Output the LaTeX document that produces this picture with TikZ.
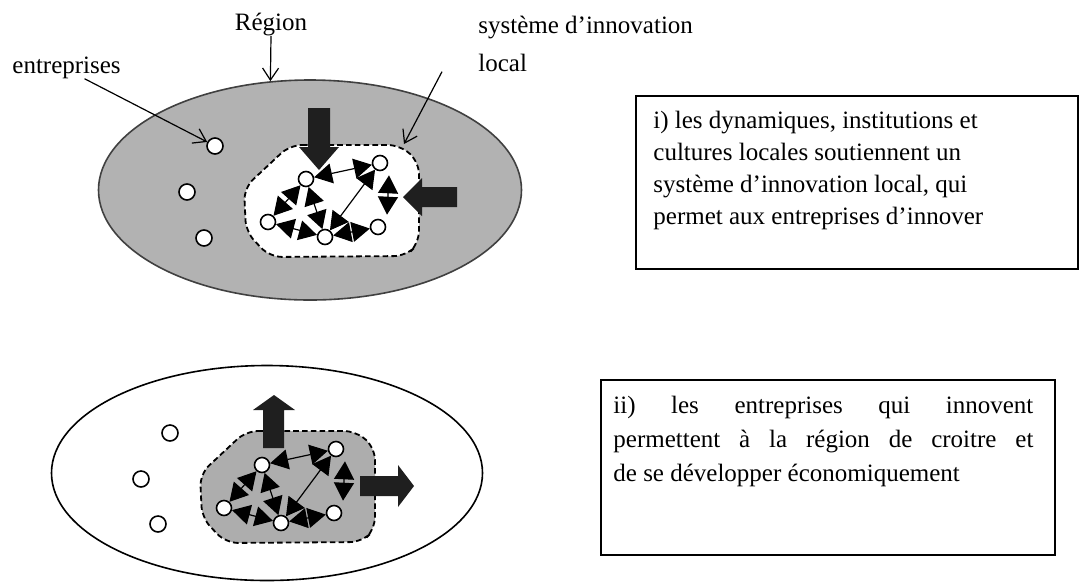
\documentclass[tikz,border=0pt]{standalone}
\usepackage{fontspec}
\setmainfont{Liberation Serif}
\usetikzlibrary{arrows.meta,shapes.geometric}

\tikzset{
  firm/.style={circle,draw,fill=white,line width=0.8pt,minimum size=7.5pt,inner sep=0pt},
  outfirm/.style={firm,minimum size=8pt},
  link/.style={{Triangle[length=9pt,width=10pt]}-{Triangle[length=9pt,width=10pt]},line width=0.6pt},
  zone/.style={draw,dash pattern=on 2.8pt off 1.6pt,line width=0.9pt,rounded corners=6pt},
  bigarrow/.style={fill=black!88},
  ptr/.style={-{Straight Barb[length=6pt,width=8pt]},line width=0.6pt},
  lbl/.style={font=\fontsize{12.5}{15}\selectfont,inner sep=0pt},
  region/.style={ellipse,draw,line width=0.8pt,inner sep=0pt},
  frame/.style={draw,line width=0.9pt,inner sep=0pt,anchor=north west},
}

\newcommand{\innerzone}[1]{%
  \path[zone,fill=#1] (290,145) -- (400,145) -- (419,162) -- (419,243) -- (406,256)
    -- (270,257) -- (246,232) -- (244,188) -- cycle;
}
\newcommand{\innernet}{%
  \node[firm] (a) at (380,163) {};
  \node[firm] (b) at (306,179) {};
  \node[firm] (c) at (268,222) {};
  \node[firm] (d) at (325,237) {};
  \node[firm] (e) at (378,227) {};
  \draw[link] (b) -- (a);
  \draw[link] (a) -- (d);
  \draw[link] (c) -- (b);
  \draw[link] (b) -- (d);
  \draw[link] (c) -- (d);
  \draw[link] (d) -- (e);
  \draw[link] ([xshift=4.5pt,yshift=-2pt]a.south) -- ([xshift=4.5pt,yshift=2pt]e.north);
}

\begin{document}
\begin{tikzpicture}[x=0.5pt,y=-0.5pt]
\useasboundingbox (0,0) rectangle (1080,585);

% ---------- top diagram ----------
\node[region,fill=black!30,draw=black!75,minimum width=211.5pt,minimum height=110pt] (topreg) at (310,190) {};
\node[outfirm] (o1) at (215,146) {};
\node[outfirm] (o2) at (187,192) {};
\node[outfirm] (o3) at (204,238) {};

\begin{scope}[name prefix=t-]
  \innerzone{white}
\end{scope}
% incoming block arrows
\fill[bigarrow] (308,108) -- (330,108) -- (330,147) -- (339,147) -- (319,170) -- (299,147) -- (308,147) -- cycle;
\fill[bigarrow] (457,187) -- (457,207) -- (422,207) -- (422,216) -- (403,197) -- (422,178) -- (422,187) -- cycle;
\begin{scope}[name prefix=t-]
  \innernet
\end{scope}

% labels
\node[lbl] (reg) at (271,24) {Région};
\draw[ptr] (reg.south) -- (topreg.110);
\node[lbl,anchor=base west] (ent) at (12,73) {entreprises};
\draw[ptr] ([xshift=9pt]ent.south) -- (o1);
\node[lbl,anchor=base west] (sys) at (478,33) {système d’innovation};
\node[lbl,anchor=base west] (loc) at (478,71) {local};
\coordinate (corner) at (404,144);
\draw[ptr] ([xshift=-18pt]loc.south west) -- (corner);

% text box i
\node[frame,minimum width=221pt,minimum height=86.5pt] (box1) at (635,95) {};
\node[lbl,align=left,anchor=north west,font=\fontsize{12.5}{16}\selectfont] (txt1) at (653,111)
  {i) les dynamiques, institutions et\\cultures locales soutiennent un\\système d’innovation local, qui\\permet aux entreprises d’innover};

% ---------- bottom diagram ----------
\node[region,fill=white,draw=black,minimum width=215.5pt,minimum height=107.5pt] (botreg) at (267,473) {};
\node[outfirm] (p1) at (170,433) {};
\node[outfirm] (p2) at (141,479) {};
\node[outfirm] (p3) at (158,524) {};

\begin{scope}[shift={(-44,286)},name prefix=b-]
  \innerzone{black!32}
\end{scope}
% outgoing block arrows
\fill[bigarrow] (263,448) -- (263,410) -- (253,410) -- (274,395) -- (295,410) -- (284,410) -- (284,448) -- cycle;
\fill[bigarrow] (360,476) -- (398,476) -- (398,465) -- (414,486) -- (398,507) -- (398,496) -- (360,496) -- cycle;
\begin{scope}[shift={(-44,286)},name prefix=b-]
  \innernet
\end{scope}

% text box ii
\node[frame,minimum width=227pt,minimum height=87.5pt] (box2) at (600,379) {};
\node[lbl,align=left,anchor=north west,font=\fontsize{12.5}{17}\selectfont] (txt2) at (613,396)
  {\makebox[210pt][s]{ii) les entreprises qui innovent}\\
   \makebox[210pt][s]{permettent à la région de croitre et}\\
   de se développer économiquement};
\end{tikzpicture}
\end{document}
